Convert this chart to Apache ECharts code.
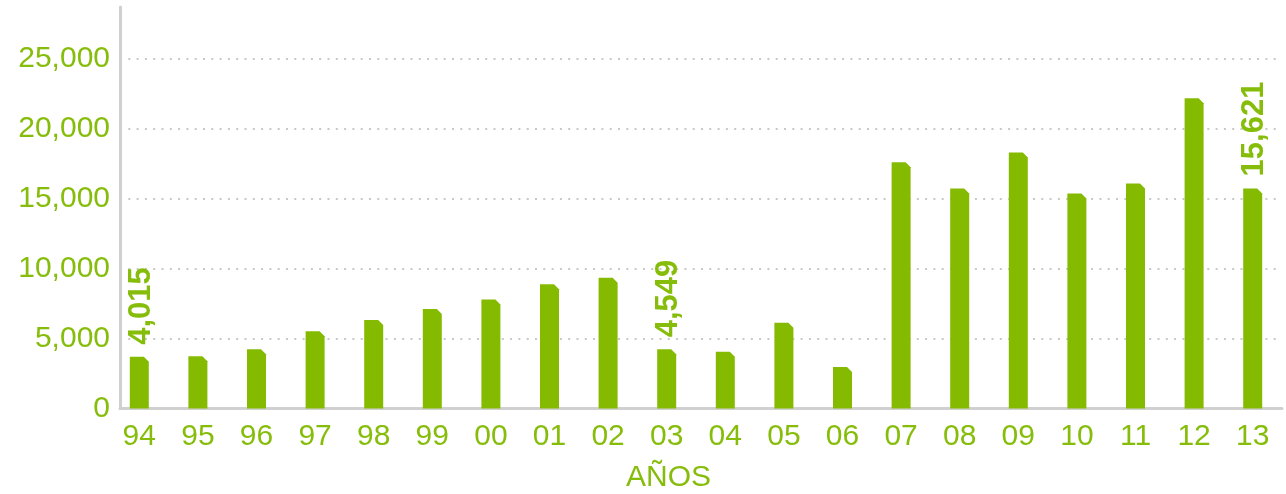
<!DOCTYPE html>
<html>
<head>
<meta charset="utf-8">
<script src="https://cdn.jsdelivr.net/npm/echarts@6/dist/echarts.min.js"></script>
<style>
  html, body { margin: 0; padding: 0; background: #fff; }
  #chart { width: 1286px; height: 494px; }
</style>
</head>
<body>
<div id="chart"></div>
<script>
const years = ['94', '95', '96', '97', '98', '99', '00', '01', '02', '03',
  '04', '05', '06', '07', '08', '09', '10', '11', '12', '13']
const values = [3700, 3740, 4230, 5520, 6320, 7110, 7800, 8890, 9340, 4230,
  4060, 6130, 2960, 17610, 15730, 18300, 15370, 16090, 22180, 15730]
// only three bars carry a printed value
const barLabels = ['4,015', '', '', '', '', '', '', '', '', '4,549',
  '', '', '', '', '', '', '', '', '', '15,621']
const yTicks = [0, 5000, 10000, 15000, 20000, 25000]

const green = '#84bb00'
const textGreen = '#86bd0a'
const font = '"Liberation Sans", Arial, Helvetica, sans-serif'

const chart = echarts.init(document.getElementById('chart'))

const renderBar = (params, api) => {
  const i = api.value(0)
  const top = api.coord([i, api.value(1)])
  const base = api.coord([i, 0])
  const w = 19
  const x0 = top[0] - w / 2
  const x1 = top[0] + w / 2
  const cut = 5
  const children = [{
    type: 'polygon',
    shape: {
      points: [[x0, top[1]], [x1 - cut, top[1]], [x1, top[1] + cut], [x1, base[1]], [x0, base[1]]]
    },
    style: { fill: green }
  }]
  const txt = barLabels[i]
  if (txt) {
    children.push({
      type: 'text',
      x: top[0] + 2,
      y: top[1] - 12,
      rotation: Math.PI / 2,
      style: {
        text: txt,
        fill: textGreen,
        font: 'bold 31px ' + font,
        align: 'left',
        verticalAlign: 'middle'
      }
    })
  }
  return { type: 'group', children }
}

const option = {
  animation: false,
  title: {
    text: 'AÑOS',
    left: 621,
    top: 458,
    textStyle: { color: textGreen, fontSize: 30, fontWeight: 'normal', fontFamily: font }
  },
  grid: [
    { left: 110, right: 4, top: 7, bottom: 85.5 },
    { left: 120, right: 4, top: 7, bottom: 85.5 }
  ],
  xAxis: [
    {
      type: 'category',
      gridIndex: 0,
      data: years,
      axisLine: { show: false },
      axisTick: { show: false },
      axisLabel: { color: textGreen, fontSize: 30, fontFamily: font, margin: 13 }
    },
    {
      type: 'value',
      gridIndex: 1,
      min: 0,
      max: 1,
      axisLine: { show: true, lineStyle: { color: '#d0d0d0', width: 3 } },
      axisTick: { show: false },
      axisLabel: { show: false },
      splitLine: { show: false }
    }
  ],
  yAxis: [
    {
      type: 'value',
      gridIndex: 0,
      min: 0,
      max: 28700,
      show: false
    },
    {
      type: 'value',
      gridIndex: 1,
      min: 0,
      max: 28700,
      interval: 5000,
      axisLine: { show: true, lineStyle: { color: '#d0d0d0', width: 3 } },
      axisTick: { show: false },
      axisLabel: {
        color: textGreen,
        fontSize: 30,
        fontFamily: font,
        margin: 10,
        showMaxLabel: false,
        formatter: v => yTicks.includes(v) ? v.toLocaleString('en-US') : ''
      },
      splitLine: {
        show: true,
        showMinLine: false,
        showMaxLine: false,
        lineStyle: { color: '#c8c8c8', width: 2, type: [2, 6.3] }
      }
    }
  ],
  series: [
    {
      type: 'custom',
      xAxisIndex: 0,
      yAxisIndex: 0,
      renderItem: renderBar,
      data: values.map((v, i) => [i, v])
    }
  ]
}

chart.setOption(option)
</script>
</body>
</html>
